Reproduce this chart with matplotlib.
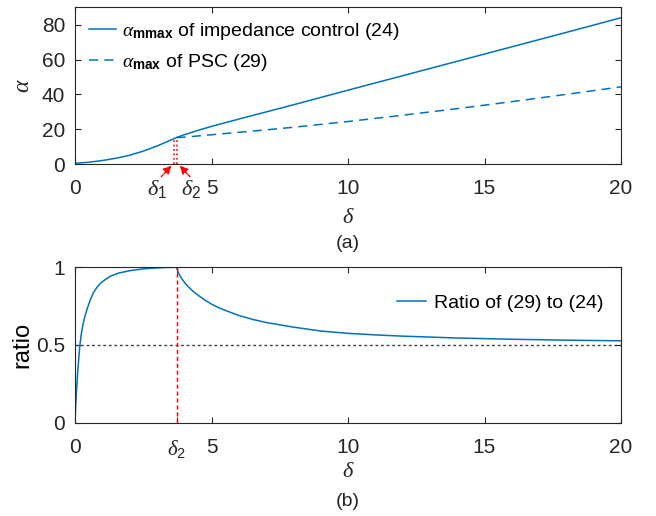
import matplotlib
matplotlib.use("Agg")
import matplotlib.pyplot as plt

plt.rcParams['font.family'] = ['Liberation Sans', 'DejaVu Sans']
plt.rcParams['mathtext.fontset'] = 'custom'
plt.rcParams['mathtext.it'] = 'Liberation Serif:italic'
plt.rcParams['mathtext.rm'] = 'Liberation Sans'
plt.rcParams['mathtext.bf'] = 'Liberation Sans:bold'

# ---------------- data ----------------
delta_imp = [0, 0.25, 0.5, 0.75, 1.0, 1.5, 2.0, 2.5, 3.0, 3.4, 3.72, 4.0, 4.5, 5.0,
             6.0, 7.0, 8.0, 10.0, 12.0, 14.0, 16.0, 18.0, 20.0]
alpha_imp = [0.4, 0.7, 1.0, 1.5, 2.0, 3.3, 5.0, 7.4, 10.3, 13.0, 15.2, 16.8, 19.3, 21.6,
             25.8, 29.9, 34.0, 42.4, 50.7, 59.0, 67.3, 75.6, 84.0]

delta_psc = [3.72, 4.0, 5.0, 6.0, 7.0, 8.0, 10.0, 12.0, 14.0, 16.0, 18.0, 20.0]
alpha_psc = [15.2, 15.4, 16.8, 18.2, 19.6, 21.1, 24.4, 28.0, 31.8, 35.8, 40.0, 44.3]

delta_ratio = [0, 0.03, 0.06, 0.1, 0.14, 0.18, 0.23, 0.29, 0.37, 0.46, 0.56, 0.67, 0.8,
               0.95, 1.1, 1.3, 1.6, 2.0, 2.5, 3.0, 3.4, 3.72, 3.8, 3.9, 4.0, 4.15,
               4.33, 4.55, 4.75, 5.0, 5.3, 5.65, 6.0, 6.5, 7.0, 7.5, 8.0,
               9.0, 10.0, 11.0, 12.0, 14.0, 16.0, 18.0, 20.0]
ratio = [0, 0.12, 0.22, 0.33, 0.42, 0.5, 0.57, 0.63, 0.69, 0.74, 0.79, 0.835, 0.87,
         0.9, 0.92, 0.943, 0.963, 0.978, 0.99, 0.996, 0.999, 1.0, 0.96, 0.93, 0.905,
         0.875, 0.845, 0.815, 0.79, 0.763, 0.737, 0.713, 0.69, 0.665, 0.645, 0.63,
         0.615, 0.59, 0.575, 0.565, 0.557, 0.545, 0.537, 0.531, 0.527]

delta1 = 3.62
delta2 = 3.72
ref_ratio = 0.5

xticks = [0, 5, 10, 15, 20]
yticks_top = [0, 20, 40, 60, 80]
yticks_bot = [0, 0.5, 1]

label_imp = r'$\alpha_{\mathbf{mmax}}$ of impedance control (24)'
label_psc = r'$\alpha_{\mathbf{max}}$ of PSC (29)'
label_ratio = 'Ratio of (29) to (24)'

# ---------------- style ----------------
blue = '#0072BD'
dark = '#262626'
fs = 14
tfs = 15

fig = plt.figure(figsize=(6.56, 5.16), dpi=100)
ax1 = fig.add_axes([75/656, 1-164/516, 546/656, 156.7/516])
ax2 = fig.add_axes([75/656, 1-422.7/516, 546/656, 155.4/516])

for ax in (ax1, ax2):
    ax.tick_params(direction='in', top=True, right=True, length=4, width=0.8,
                   colors=dark, labelsize=tfs, labelcolor=dark)
    ax.tick_params(axis='x', pad=11)
    ax.tick_params(axis='y', pad=7)
    for s in ax.spines.values():
        s.set_color(dark)
        s.set_linewidth(0.8)
    ax.set_xlim(0, 20)

# top panel
ax1.plot(delta_imp, alpha_imp, color=blue, lw=1.1, label=label_imp)
ax1.plot(delta_psc, alpha_psc, color=blue, lw=1.1, ls=(0, (6, 4)), label=label_psc)
ax1.plot([delta1, delta1], [0, 14.5], color='red', lw=1.2, ls=':')
ax1.plot([delta2, delta2], [0, alpha_psc[0]], color='red', lw=1.2, ls=':')
ax1.set_ylim(0, 90)
ax1.set_xticks(xticks)
ax1.set_yticks(yticks_top)
ax1.set_ylabel(r'$\alpha$', fontsize=fs + 3, color=dark, labelpad=6)
ax1.set_xlabel(r'$\delta$', fontsize=fs + 2, color=dark, labelpad=6)
ax1.annotate('', xy=(delta1 - 0.02, 0.3), xytext=(-10, -11), textcoords='offset points',
             arrowprops=dict(arrowstyle='-|>', color='red', lw=1.0, mutation_scale=12,
                             linestyle=(0, (2, 1))), annotation_clip=False)
ax1.annotate('', xy=(delta2 + 0.05, 0.3), xytext=(10, -11), textcoords='offset points',
             arrowprops=dict(arrowstyle='-|>', color='red', lw=1.0, mutation_scale=12,
                             linestyle=(0, (2, 1))), annotation_clip=False)
ax1.text(delta1 - 0.6, -0.16, r'$\delta_1$', transform=ax1.get_xaxis_transform(),
         ha='center', va='center', fontsize=fs + 2, color=dark)
ax1.text(delta2 + 0.55, -0.16, r'$\delta_2$', transform=ax1.get_xaxis_transform(),
         ha='center', va='center', fontsize=fs + 2, color=dark)
ax1.text(0.5, -0.51, '(a)', transform=ax1.transAxes, ha='center', va='center',
         fontsize=fs, color=dark)
leg1 = ax1.legend(loc='upper left', bbox_to_anchor=(0.0, 1.0), frameon=False,
                  fontsize=fs, handlelength=1.4, handletextpad=0.3, labelspacing=0.5,
                  borderaxespad=0.3)
for t in leg1.get_texts():
    t.set_color('black')

# bottom panel
ax2.plot(delta_ratio, ratio, color=blue, lw=1.1, label=label_ratio)
ax2.axhline(ref_ratio, color='#404040', lw=1.0, ls=(0, (2, 2)))
ax2.axvline(delta2, color='red', lw=1.0, ls=(0, (3, 2)))
ax2.set_ylim(0, 1)
ax2.set_xticks([0, delta2, 5, 10, 15, 20])
ax2.set_xticklabels(['0', r'$\delta_2$', '5', '10', '15', '20'])
ax2.set_yticks(yticks_bot)
ax2.set_yticklabels(['0', '0.5', '1'])
ax2.set_ylabel('ratio', fontsize=fs + 3, color='black', labelpad=2)
ax2.set_xlabel(r'$\delta$', fontsize=fs + 2, color=dark, labelpad=1)
ax2.text(0.5, -0.51, '(b)', transform=ax2.transAxes, ha='center', va='center',
         fontsize=fs, color=dark)
leg2 = ax2.legend(loc='upper right', bbox_to_anchor=(1.0, 0.94), frameon=False,
                  fontsize=fs, handlelength=1.5, handletextpad=0.4)
for t in leg2.get_texts():
    t.set_color('black')

fig.savefig('out.png', dpi=100)
